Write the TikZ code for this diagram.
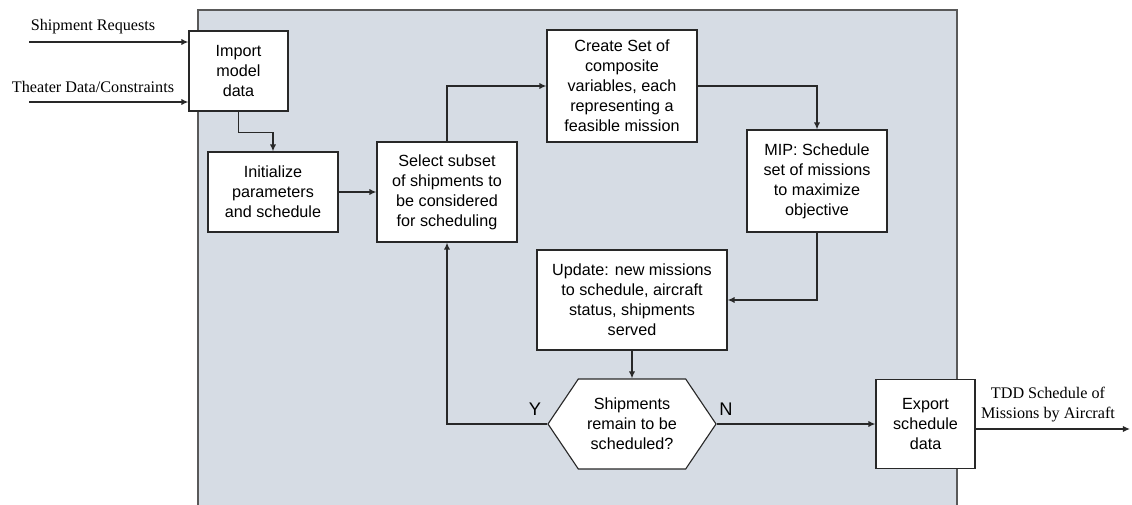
\documentclass[tikz,border=0pt]{standalone}
\usepackage{fontspec}
\setmainfont{Liberation Serif}
\setsansfont{Liberation Sans}
\usetikzlibrary{arrows.meta,shapes.symbols}
\definecolor{panelgray}{RGB}{214,220,228}
\definecolor{linegray}{RGB}{40,40,40}
\tikzset{
  stepbox/.style={draw=linegray, fill=white, line width=0.8pt, align=center,
    inner sep=1pt, font=\sffamily\fontsize{11.5}{14.2}\selectfont},
  flow/.style={draw=linegray, line width=1pt, -{Latex[length=5pt,width=4.5pt]}},
  inlabel/.style={font=\rmfamily\fontsize{11.5}{14.2}\selectfont, align=center},
  yesno/.style={font=\sffamily\fontsize{13}{15}\selectfont},
}
\begin{document}
\begin{tikzpicture}[x=0.025cm, y=-0.025cm]
    \useasboundingbox (0,0) rectangle (1132,505);
    \draw[fill=panelgray, draw=gray!70!black, line width=0.8pt] (198,10) rectangle (957,507);
    % process steps
    \node[stepbox, minimum width=2.475cm, minimum height=2cm] (import) at (238.5,71) {Import\\model\\data};
    \node[stepbox, minimum width=3.25cm, minimum height=2cm] (init) at (273,192) {Initialize\\parameters\\and schedule};
    \node[stepbox, minimum width=3.5cm, minimum height=2.5cm] (select) at (447,192) {Select subset\\of shipments to\\be considered\\for scheduling};
    \node[stepbox, minimum width=3.75cm, minimum height=2.8cm] (create) at (622,86) {Create Set of\\composite\\variables, each\\representing a\\feasible mission};
    \node[stepbox, minimum width=3.5cm, minimum height=2.55cm] (mip) at (817,181) {MIP: Schedule\\set of missions\\to maximize\\objective};
    \node[stepbox, minimum width=4.75cm, minimum height=2.5cm] (update) at (632,300) {Update: new missions\\to schedule, aircraft\\status, shipments\\served};
    \node[stepbox, signal, signal to=west and east, signal pointer angle=112, minimum width=4.2cm, minimum height=2.25cm] (remain) at (632,424) {Shipments\\remain to be\\scheduled?};
    \node[stepbox, minimum width=2.475cm, minimum height=2.225cm] (export) at (925.5,424) {Export\\schedule\\data};
    % inputs and output
    \coordinate (shipin) at (29,42);
    \coordinate (theatin) at (29,102);
    \coordinate (out) at (1130,429);
    \node[inlabel] (shiplabel) at (93,27) {Shipment Requests};
    \node[inlabel] (theatlabel) at (93,87) {Theater Data/Constraints};
    \node[inlabel] (outlabel) at (1048,405) {TDD Schedule of\\Missions by Aircraft};
    \draw[flow] (shipin) -- (shipin -| import.west);
    \draw[flow] (theatin) -- (theatin -| import.west);
    \draw[flow] (export.east |- out) -- (out);
    % flow between steps
    \draw[flow] (import.south) -- ++(0,21) -| (init.north);
    \draw[flow] (init.east) -- (select.west);
    \draw[flow] (select.north) |- (create.west);
    \draw[flow] (create.east) -| (mip.north);
    \draw[flow] (mip.south) |- (update.east);
    \draw[flow] (update.south) -- (remain.north);
    \draw[flow] (remain.west) -| (select.south);
    \draw[flow] (remain.east) -- (export.west);
    \node[yesno] (ylabel) at (535,409) {Y};
    \node[yesno] (nlabel) at (726,409) {N};
\end{tikzpicture}
\end{document}
